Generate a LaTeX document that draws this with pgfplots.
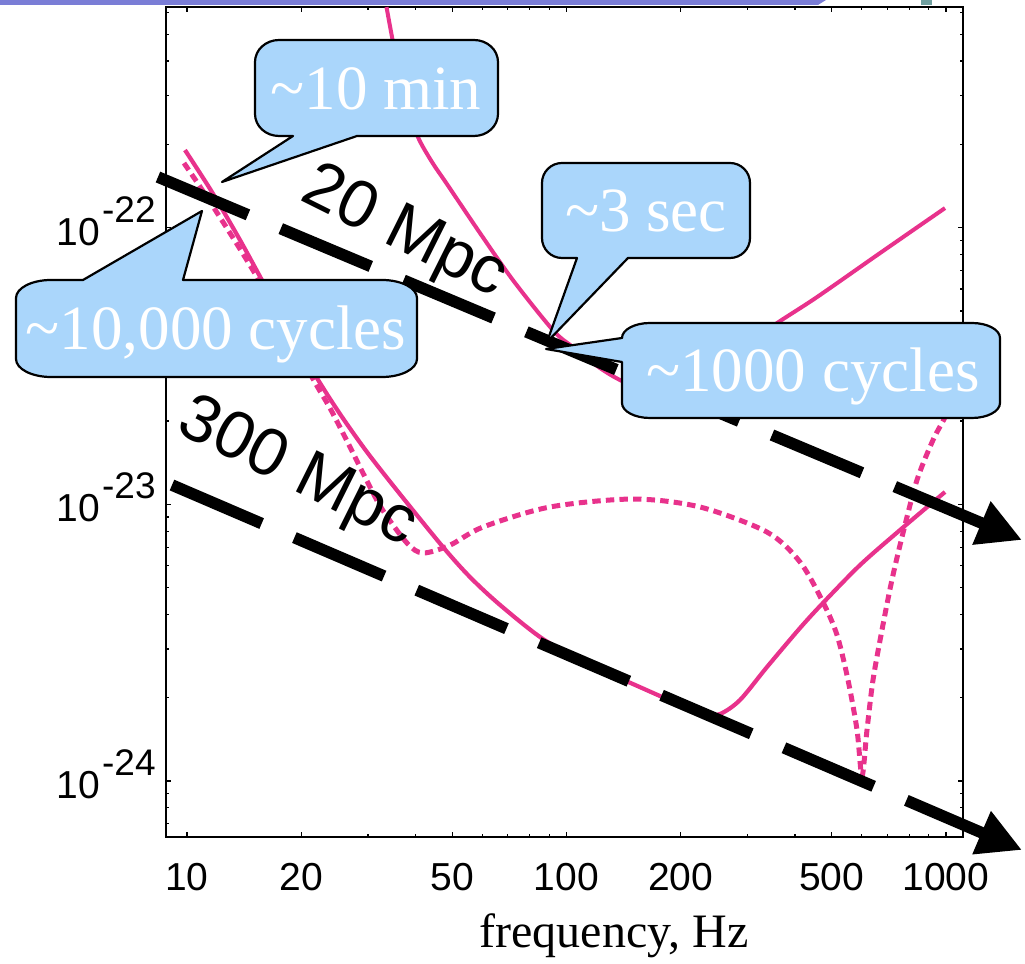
\documentclass[border=0pt]{standalone}
\usepackage{fontspec}
\setmainfont{Liberation Sans}
\newfontfamily\serif{Liberation Serif}
\usepackage{pgfplots}
\pgfplotsset{compat=1.18}
\usetikzlibrary{arrows.meta}
\definecolor{gwpink}{RGB}{232,50,140}
\definecolor{callblue}{RGB}{170,214,251}
\definecolor{hdrpurple}{RGB}{122,125,214}
\definecolor{hdrteal}{RGB}{112,160,160}
\newcommand\yl[1]{10\smash{\raisebox{11.5pt}{\fontsize{18.5}{18.5}\selectfont\kern1pt -#1}}}
\tikzset{callout/.style={fill=callblue, draw=black, line width=1.1pt, line join=round},
  calltext/.style={text=white, font=\serif\fontsize{31.5}{31.5}\selectfont, anchor=base, inner sep=0pt}}
\begin{document}
\begin{tikzpicture}
\useasboundingbox (-83pt,-63.5pt) rectangle (429.5pt,418.5pt);
\begin{axis}[
  at={(0pt,0pt)}, anchor=south west,
  scale only axis, width=398.5pt, height=415pt,
  xmode=log, ymode=log,
  xmin=8.805, xmax=1108.7, ymin=6.27e-25, ymax=6.27e-22,
  clip=false,
  axis line style={line width=1.3pt},
  xtick={10,20,50,100,200,500,1000},
  xticklabels={10,20,50,100,200,500,1000},
  minor xtick={30,40,60,70,80,90,300,400,600,700,800,900},
  ytick={1e-24,1e-23,1e-22},
  yticklabels={\yl{24},\yl{23},\yl{22}},
  minor ytick={7e-25,8e-25,9e-25,2e-24,3e-24,4e-24,5e-24,6e-24,7e-24,8e-24,9e-24,2e-23,3e-23,4e-23,5e-23,6e-23,7e-23,8e-23,9e-23,2e-22,3e-22,4e-22,5e-22,6e-22},
  tick style={black, line width=0.6pt},
  major tick length=2.5pt, minor tick length=1.5pt,
  tick align=inside,
  tick label style={font=\fontsize{19.5}{19.5}\selectfont},
  xticklabel style={inner sep=0pt, anchor=north, yshift=-13pt},
  yticklabel style={inner sep=0pt, anchor=east, xshift=-5pt, yshift=-2pt},
]
% Advanced detector (solid)
\addplot[gwpink, line width=2.1pt, smooth, tension=0.5] coordinates {
(9.879,1.908e-22) (11.638,1.345e-22) (13.796,9.02e-23) (15.859,6.36e-23) (18.68,4.23e-23)
(22.01,2.860e-23) (25.31,2.120e-23) (29.81,1.545e-23) (36.41,1.089e-23) (47.27,7.01e-24)
(55.68,5.46e-24) (66.79,4.33e-24) (86.70,3.26e-24) (115.3,2.625e-24) (149.7,2.241e-24)
(202.8,1.866e-24) (231.7,1.746e-24) (253.8,1.746e-24) (286.5,1.962e-24) (337.6,2.582e-24)
(412.4,3.571e-24) (474.1,4.40e-24) (593.5,6.03e-24) (756.5,8.07e-24) (994.0,1.108e-23)};
% narrow-band configuration (dashed)
\addplot[gwpink, line width=2.5pt, dash pattern=on 4.2pt off 2.6pt, smooth, tension=0.5] coordinates {
(9.820,1.712e-22) (11.638,1.209e-22) (15.292,6.63e-23) (21.35,2.884e-23) (23.81,2.228e-23)
(26.57,1.665e-23) (29.45,1.255e-23) (32.65,9.62e-24) (37.99,7.25e-24) (41.87,6.67e-24)
(49.32,7.12e-24) (60.26,8.28e-24) (90.46,9.78e-24) (149.7,1.045e-23) (224.8,9.78e-24)
(337.6,7.94e-24) (412.4,6.19e-24) (474.1,4.43e-24) (516.2,3.37e-24) (551.9,2.317e-24)
(582.9,1.529e-24) (600.8,1.042e-24) (619.3,1.529e-24) (642.3,2.317e-24) (678.1,3.51e-24)
(720.5,5.33e-24) (770.4,7.87e-24) (838.7,1.224e-23) (924.4,1.708e-23) (994.0,2.067e-23)
(1024.6,2.381e-23)};
% initial detector (solid)
\addplot[gwpink, line width=2.0pt, smooth, tension=0.5] coordinates {
(33.56,6.27e-22) (34.70,4.886e-22) (36.20,3.649e-22) (37.99,2.797e-22) (40.61,2.126e-22)
(44.22,1.727e-22) (48.43,1.437e-22) (59.17,9.56e-23) (72.28,6.46e-23) (92.13,4.26e-23)
(104.0,3.70e-23) (122.5,3.11e-23) (138.4,2.813e-23) (156.2,2.632e-23) (176.4,2.589e-23)
(211.6,2.813e-23) (269.7,3.464e-23) (358.7,4.52e-23) (457.1,5.61e-23) (669.9,8.09e-23)
(994.0,1.177e-22)};
% chirp tracks
\addplot[black, line width=5.8pt, dash pattern=on 48.8pt off 17.8pt, -{Triangle[length=22pt,width=22pt]}]
  coordinates {(8.386,1.524e-22) (1586,7.43e-24)};
\addplot[black, line width=5.8pt, dash pattern=on 48.8pt off 17.8pt, -{Triangle[length=22pt,width=22pt]}]
  coordinates {(9.131,1.174e-23) (1586,5.63e-25)};
\end{axis}
\begin{scope}[xshift=-83pt, yshift=418.5pt, x=0.5pt, y=-0.5pt]
\fill[hdrpurple] (0,0) -- (826,0) -- (818,5) -- (0,5) -- cycle;
\fill[hdrteal] (921,0) rectangle (932,5);
\node[font=\serif\fontsize{24}{24}\selectfont, anchor=base, inner sep=0pt] at (614,948) {frequency, Hz};
\node[rotate=-26.5, font=\fontsize{33.5}{33.5}\selectfont, inner sep=0pt] at (404,234) {20 Mpc};
\node[rotate=-26.5, font=\fontsize{33.5}{33.5}\selectfont, inner sep=0pt] at (297,474) {300 Mpc};
% ~10 min
\draw[callout] (357,136) -- (474,136) arc[start angle=270,end angle=360,x radius=12pt,y radius=11pt]
  -- (498,62) arc[start angle=0,end angle=90,x radius=12pt,y radius=11pt]
  -- (279,40) arc[start angle=90,end angle=180,x radius=12pt,y radius=11pt]
  -- (255,114) arc[start angle=180,end angle=270,x radius=12pt,y radius=11pt]
  -- (293,136) -- (222,182) -- cycle;
\node[calltext] at (376,110) {\textasciitilde 10 min};
% ~10,000 cycles
\draw[callout] (202,211) -- (83,280) -- (51,280) arc[start angle=90,end angle=180,x radius=17.5pt,y radius=9pt]
  -- (16,359) arc[start angle=180,end angle=270,x radius=17.5pt,y radius=9pt]
  -- (382,377) arc[start angle=270,end angle=360,x radius=17.5pt,y radius=9pt]
  -- (417,298) arc[start angle=0,end angle=90,x radius=17.5pt,y radius=9pt]
  -- (183,280) -- cycle;
\node[calltext] at (216,350) {\textasciitilde 10,000 cycles};
% ~3 sec
\draw[callout] (628,258) -- (730,258) arc[start angle=270,end angle=360,radius=10pt]
  -- (750,183) arc[start angle=0,end angle=90,radius=10pt]
  -- (562,163) arc[start angle=90,end angle=180,radius=10pt]
  -- (542,238) arc[start angle=180,end angle=270,radius=10pt]
  -- (577,258) -- (547,342) -- cycle;
\node[calltext] at (646,232) {\textasciitilde 3 sec};
% ~1000 cycles
\draw[callout] (650,323) arc[start angle=90,end angle=180,x radius=14pt,y radius=7.5pt]
  -- (546,349) -- (622,362)
  -- (622,403) arc[start angle=180,end angle=270,x radius=14pt,y radius=7.5pt]
  -- (972,418) arc[start angle=270,end angle=360,x radius=14pt,y radius=7.5pt]
  -- (1000,338) arc[start angle=0,end angle=90,x radius=14pt,y radius=7.5pt]
  -- cycle;
\node[calltext] at (813,392) {\textasciitilde 1000 cycles};
\end{scope}
\end{tikzpicture}
\end{document}
